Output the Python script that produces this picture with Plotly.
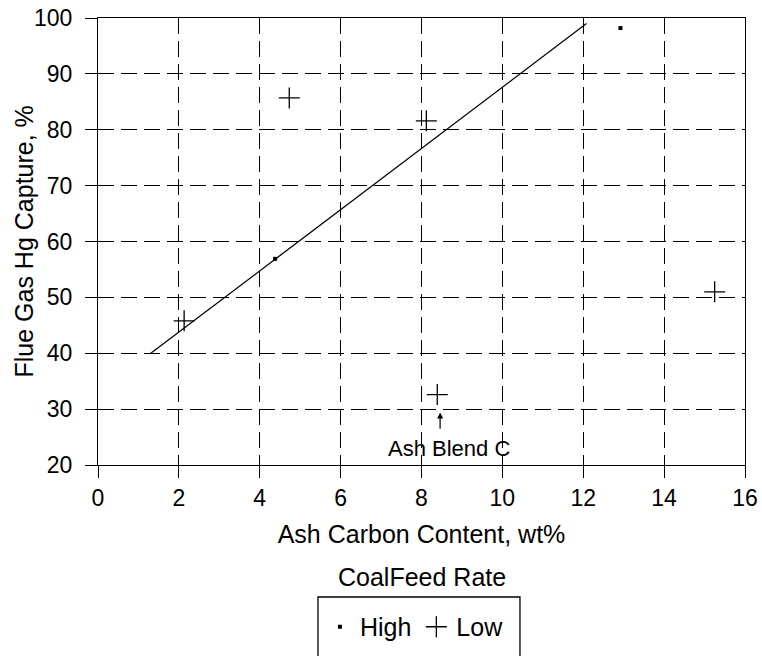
import plotly.graph_objects as go

# Data
high_x = [4.38, 12.92]
high_y = [56.9, 98.2]

low_x = [2.13, 4.73, 8.12, 8.39, 15.25]
low_y = [45.8, 85.7, 81.6, 32.6, 51.0]

trend_x = [1.29, 12.08]
trend_y = [39.9, 99.0]

x_ticks = [0, 2, 4, 6, 8, 10, 12, 14, 16]
y_ticks = [20, 30, 40, 50, 60, 70, 80, 90, 100]

FONT = "Liberation Sans, Arial, Helvetica, sans-serif"

fig = go.Figure()

fig.add_trace(go.Scatter(
    x=trend_x, y=trend_y, mode="lines",
    line=dict(color="black", width=1.3),
    showlegend=False, hoverinfo="skip",
))
fig.add_trace(go.Scatter(
    x=high_x, y=high_y, mode="markers", name="High",
    marker=dict(symbol="square", size=4, color="black"),
))
fig.add_trace(go.Scatter(
    x=low_x, y=low_y, mode="markers", name="Low",
    marker=dict(symbol="cross-thin", size=15, color="black",
                line=dict(color="black", width=1.3)),
))

axis_common = dict(
    showline=True, linecolor="black", linewidth=1.3, mirror=True,
    showgrid=True, gridcolor="black", gridwidth=1.1, griddash="16px,7px",
    zeroline=False, ticks="outside", ticklen=12, tickwidth=1.2,
    tickcolor="black", tickfont=dict(family=FONT, size=23, color="black"),
    automargin=False,
)

fig.update_xaxes(
    range=[0, 16], tickvals=x_ticks, ticktext=[str(v) for v in x_ticks],
    title=dict(text="Ash Carbon Content, wt%", standoff=15,
               font=dict(family=FONT, size=25, color="black")),
    **axis_common,
)
fig.update_yaxes(
    range=[20, 100], tickvals=y_ticks, ticktext=[str(v) for v in y_ticks],
    ticklabelstandoff=8,
    **axis_common,
)

fig.add_annotation(
    x=-0.1159, y=0.5, xref="paper", yref="paper",
    text="Flue Gas Hg Capture, %", textangle=-90, showarrow=False,
    xanchor="center", yanchor="middle",
    font=dict(family=FONT, size=25, color="black"),
)
fig.add_annotation(
    x=8.68, y=23.0, xref="x", yref="y", text="Ash Blend C",
    showarrow=False, font=dict(family=FONT, size=22, color="black"),
)
fig.add_annotation(
    x=8.46, y=29.4, xref="x", yref="y", ax=8.46, ay=26.2,
    axref="x", ayref="y", text="", showarrow=True,
    arrowhead=2, arrowsize=1, arrowwidth=1.2, arrowcolor="black",
)
fig.add_annotation(
    x=0.5, y=-0.2506, xref="paper", yref="paper", text="CoalFeed Rate",
    showarrow=False, yanchor="middle",
    font=dict(family=FONT, size=25, color="black"),
)

fig.add_shape(
    type="rect", xref="paper", yref="paper",
    x0=0.34, x1=0.6522, y0=-0.2953, y1=-0.6,
    line=dict(color="black", width=1.3), fillcolor="rgba(0,0,0,0)",
)

fig.update_layout(
    width=762, height=656,
    margin=dict(l=98, r=17, t=18, b=191, autoexpand=False),
    paper_bgcolor="white", plot_bgcolor="white",
    font=dict(family=FONT, color="black"),
    showlegend=True,
    legend=dict(
        orientation="h", x=0.343, y=-0.3624, xanchor="left", yanchor="middle",
        font=dict(family=FONT, size=25, color="black"),
        bgcolor="rgba(0,0,0,0)", borderwidth=0, itemwidth=30,
        tracegroupgap=0,
    ),
)

fig.write_html(
    "out.html",
    config={"displayModeBar": False},
    post_script="document.body.style.margin='0';document.body.style.overflow='hidden';",
)
